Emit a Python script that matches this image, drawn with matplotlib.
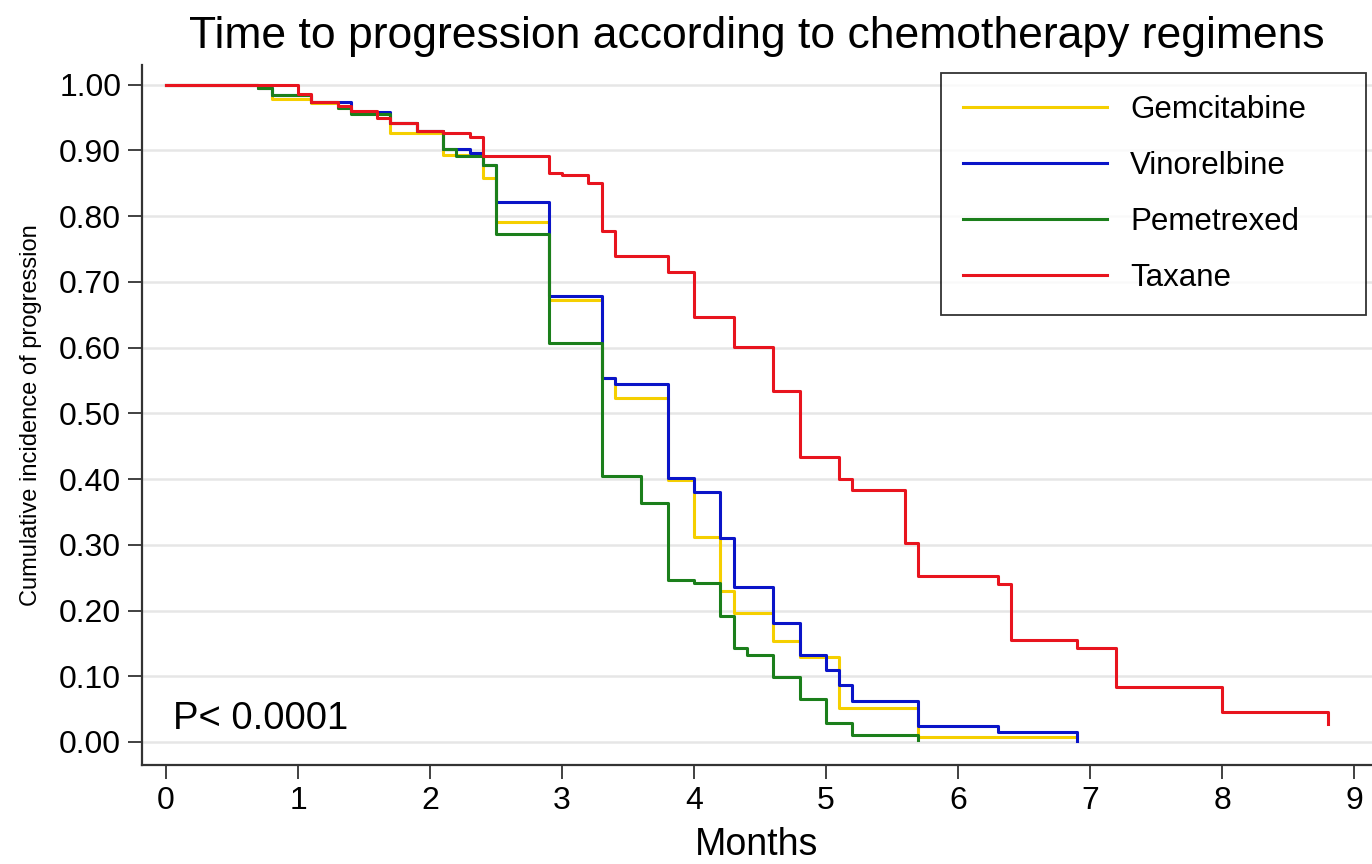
import matplotlib
matplotlib.use("Agg")
import matplotlib.pyplot as plt

plt.rcParams['font.family'] = ['Liberation Sans', 'DejaVu Sans']

# ---- data (step functions, steps-post) ----
gem_t = [0, 0.7, 0.8, 1.1, 1.3, 1.4, 1.7, 2.1, 2.4, 2.5, 2.9, 3.3, 3.4, 3.8, 4.0, 4.2, 4.3, 4.6, 4.8, 5.1, 5.7, 6.9]
gem_s = [1.0, 0.995, 0.978, 0.972, 0.964, 0.957, 0.926, 0.893, 0.858, 0.791, 0.673, 0.554, 0.524, 0.398, 0.312,
         0.229, 0.196, 0.153, 0.129, 0.051, 0.008, 0.008]

vin_t = [0, 0.7, 0.8, 1.1, 1.4, 1.7, 1.9, 2.1, 2.3, 2.4, 2.5, 2.9, 3.3, 3.4, 3.8, 4.0, 4.2, 4.3, 4.6, 4.8, 5.0,
         5.1, 5.2, 5.7, 6.3, 6.9]
vin_s = [1.0, 0.995, 0.985, 0.974, 0.958, 0.941, 0.929, 0.902, 0.896, 0.878, 0.822, 0.678, 0.554, 0.545, 0.402,
         0.381, 0.311, 0.236, 0.181, 0.132, 0.110, 0.087, 0.063, 0.024, 0.015, 0.002]

pem_t = [0, 0.7, 0.8, 1.1, 1.3, 1.4, 1.7, 1.9, 2.1, 2.2, 2.4, 2.5, 2.9, 3.3, 3.6, 3.8, 4.0, 4.2, 4.3, 4.4, 4.6,
         4.8, 5.0, 5.2, 5.7]
pem_s = [1.0, 0.995, 0.985, 0.974, 0.964, 0.956, 0.941, 0.929, 0.902, 0.891, 0.878, 0.773, 0.607, 0.404, 0.364,
         0.247, 0.242, 0.191, 0.143, 0.133, 0.099, 0.065, 0.029, 0.011, 0.003]

tax_t = [0, 1.0, 1.1, 1.3, 1.4, 1.6, 1.7, 1.9, 2.1, 2.3, 2.4, 2.9, 3.0, 3.2, 3.3, 3.4, 3.8, 4.0, 4.3, 4.6, 4.8,
         5.1, 5.2, 5.6, 5.7, 6.3, 6.4, 6.9, 7.2, 8.0, 8.8]
tax_s = [1.0, 0.986, 0.973, 0.968, 0.960, 0.950, 0.941, 0.929, 0.926, 0.920, 0.892, 0.866, 0.862, 0.850, 0.778,
         0.740, 0.715, 0.647, 0.601, 0.534, 0.434, 0.400, 0.384, 0.303, 0.253, 0.241, 0.155, 0.143, 0.084,
         0.046, 0.028]

labels = ['Gemcitabine', 'Vinorelbine', 'Pemetrexed', 'Taxane']
colors = ['#F5CF00', '#0A14C8', '#1B7F1B', '#E8141E']
x_ticks = [0, 1, 2, 3, 4, 5, 6, 7, 8, 9]
y_ticks = [0.0, 0.1, 0.2, 0.3, 0.4, 0.5, 0.6, 0.7, 0.8, 0.9, 1.0]

W, H = 1372, 864
fig = plt.figure(figsize=(W / 100, H / 100), dpi=100)
ax = fig.add_axes([142 / W, 1 - 765 / H, 1 - 142 / W, (765 - 65) / H])

for t, s, lab, c in zip([gem_t, vin_t, pem_t, tax_t], [gem_s, vin_s, pem_s, tax_s], labels, colors):
    ax.plot(t, s, drawstyle='steps-post', color=c, lw=2.2, label=lab, zorder=3)

ax.set_xlim(-0.182, 9.136)
ax.set_ylim(-0.035, 1.030)
ax.set_xticks(x_ticks)
ax.set_yticks(y_ticks)
ax.set_yticklabels([f'{v:.2f}' for v in y_ticks])
ax.tick_params(axis='both', labelsize=23, length=10, width=1.3, color='#333333', pad=5)
ax.grid(axis='y', color='#e6e6e6', lw=1.8, zorder=0)
for sp in ['top', 'right']:
    ax.spines[sp].set_visible(False)
for sp in ['left', 'bottom']:
    ax.spines[sp].set_color('#333333')
    ax.spines[sp].set_linewidth(1.6)

ax.set_xlabel('Months', fontsize=27, labelpad=8)
ax.set_ylabel('Cumulative incidence of progression', fontsize=17, labelpad=12)
ax.set_title('Time to progression according to chemotherapy regimens', fontsize=32, pad=12)
ax.text(0.05, 0.035, 'P< 0.0001', fontsize=27.5, ha='left', va='center')

leg = fig.legend(loc='upper left', bbox_to_anchor=(941 / W, 1 - 318 / H, 425 / W, 245 / H), mode='expand',
                 borderaxespad=0, fontsize=22.5, handlelength=4.6, handletextpad=0.75, labelspacing=0.83,
                 frameon=True, fancybox=False, edgecolor='black', borderpad=0.7)
leg.get_frame().set_linewidth(1.3)

fig.savefig('out.png', dpi=100, facecolor='white')
